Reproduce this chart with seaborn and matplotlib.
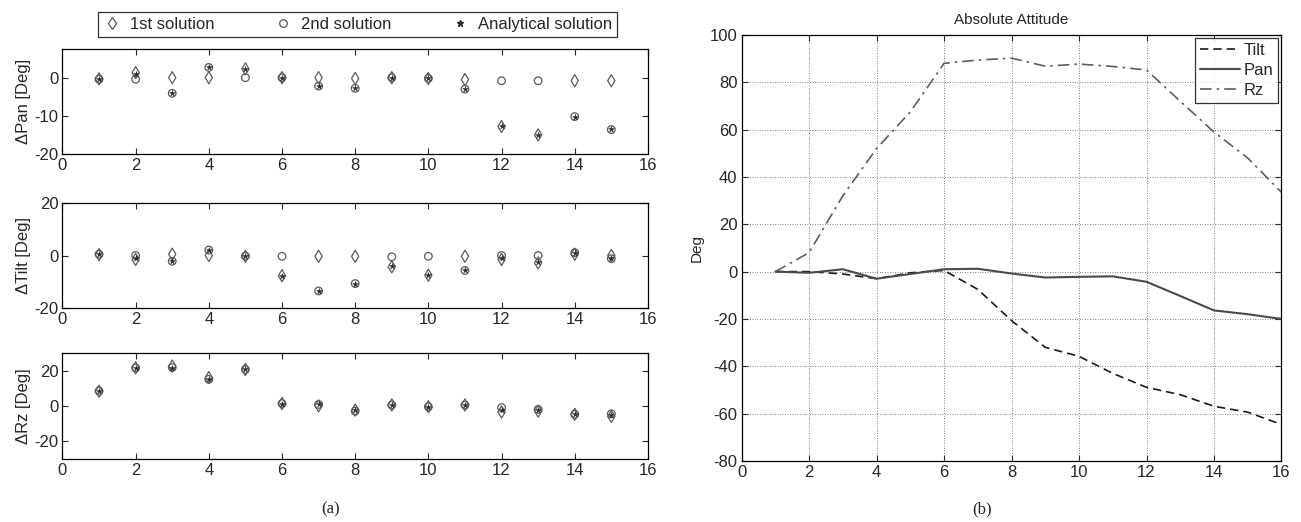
import numpy as np
import pandas as pd
import matplotlib
matplotlib.use("Agg")
import matplotlib.pyplot as plt
from matplotlib.lines import Line2D
import seaborn as sns

# ---- per-frame attitude errors (deg), frames 1..15 ----
frames = list(range(1, 16))

pan_first = [-0.3, 1.3, 0.0, 0.0, 2.3, 0.0, 0.0, -0.2, 0.0, -0.2, -0.5, -12.8, -15.0, -0.8, -0.8]
pan_second = [-0.4, -0.4, -4.1, 2.7, 0.0, 0.0, -2.2, -2.8, 0.0, -0.2, -3.0, -0.8, -0.8, -10.2, -13.6]
pan_analytical = [-0.4, 1.0, -4.0, 2.7, 2.2, 0.0, -2.2, -2.8, 0.0, -0.2, -3.0, -12.7, -15.0, -10.2, -13.5]

tilt_first = [0.3, -1.5, 0.5, 0.0, -0.3, -7.7, -0.3, -0.3, -4.3, -7.5, -0.3, -1.5, -2.8, 0.5, 0.0]
tilt_second = [0.5, 0.0, -2.2, 2.1, -0.2, -0.3, -13.5, -10.7, -0.5, -0.3, -5.7, 0.0, 0.0, 1.1, -1.2]
tilt_analytical = [0.5, -1.0, -2.0, 2.0, -0.3, -7.7, -13.5, -10.7, -4.0, -7.5, -5.7, -1.0, -2.5, 0.8, -1.0]

rz_first = [8.3, 21.5, 22.5, 16.0, 20.6, 1.3, 0.0, -2.4, 0.5, -0.5, 0.5, -3.5, -3.0, -4.8, -6.0]
rz_second = [8.4, 21.5, 21.7, 15.0, 20.6, 1.3, 0.8, -3.0, 0.5, -0.5, 0.5, -1.0, -2.0, -4.8, -4.5]
rz_analytical = [8.4, 21.5, 21.7, 15.0, 20.6, 1.3, 0.8, -2.5, 0.5, -0.5, 0.5, -2.5, -2.5, -4.8, -5.0]

# ---- absolute attitude (deg), frames 1..16 ----
abs_frames = list(range(1, 17))
abs_tilt = [0.0, 0.0, -1.0, -3.0, -0.5, 0.5, -7.5, -20.7, -32.0, -35.8, -43.0, -48.9, -52.0, -56.9, -59.4, -64.6]
abs_pan = [0.0, -0.5, 1.0, -3.0, -1.0, 1.0, 1.2, -0.8, -2.5, -2.2, -2.0, -4.3, -10.3, -16.4, -18.0, -20.0]
abs_rz = [0.0, 8.0, 32.0, 52.0, 67.5, 88.0, 89.4, 90.2, 86.8, 87.7, 86.7, 85.2, 72.0, 59.0, 48.0, 33.5]

sns.set_style("ticks")
plt.rcParams["font.family"] = ["Liberation Sans", "DejaVu Sans"]
plt.rcParams["axes.unicode_minus"] = False

fig = plt.figure(figsize=(13.01, 5.22), dpi=100)

# left column: three stacked error panels
panel_boxes = [
    (0.048, 0.705, 0.450, 0.201),
    (0.048, 0.410, 0.450, 0.201),
    (0.048, 0.121, 0.450, 0.203),
]
panel_data = [
    ("\u0394Pan [Deg]", pan_first, pan_second, pan_analytical, (-20, 7.5), [-20, -10, 0]),
    ("\u0394Tilt [Deg]", tilt_first, tilt_second, tilt_analytical, (-20, 20), [-20, 0, 20]),
    ("\u0394Rz [Deg]", rz_first, rz_second, rz_analytical, (-30, 30), [-20, 0, 20]),
]

mark_gray = "#5a5a5a"
dark = "#2a2a2a"

for box, (label, first, second, analytical, ylim, yticks) in zip(panel_boxes, panel_data):
    ax = fig.add_axes(box)
    df = pd.DataFrame({"frame": frames, "first": first, "second": second, "analytical": analytical})
    sns.scatterplot(data=df, x="frame", y="second", marker="o", s=30,
                    facecolor="none", edgecolor=mark_gray, linewidth=0.9, ax=ax)
    sns.scatterplot(data=df, x="frame", y="first", marker="d", s=38,
                    facecolor="none", edgecolor=mark_gray, linewidth=0.9, ax=ax)
    sns.scatterplot(data=df, x="frame", y="analytical", marker="*", s=20,
                    color=dark, edgecolor=dark, linewidth=0.3, ax=ax)
    ax.set_xlim(0, 16)
    ax.set_ylim(*ylim)
    ax.set_xticks(range(0, 17, 2))
    ax.set_yticks(yticks)
    ax.set_xlabel("")
    ax.set_ylabel(label, fontsize=12, labelpad=2)
    ax.tick_params(direction="in", top=True, right=True, labelsize=12, length=4,
                   width=0.8, pad=3)
    for sp in ax.spines.values():
        sp.set_color("black")
        sp.set_linewidth(0.9)

fig.text(0.254, 0.025, "(a)", fontsize=12, family=["Liberation Serif"], ha="center", va="center")

legend_handles = [
    Line2D([], [], linestyle="none", marker="d", markersize=6, markerfacecolor="none",
           markeredgecolor=mark_gray, markeredgewidth=0.9, label="1st solution"),
    Line2D([], [], linestyle="none", marker="o", markersize=5.5, markerfacecolor="none",
           markeredgecolor=mark_gray, markeredgewidth=0.9, label="2nd solution"),
    Line2D([], [], linestyle="none", marker="*", markersize=4.5, markerfacecolor=dark,
           markeredgecolor=dark, label="Analytical solution"),
]
leg = fig.legend(handles=legend_handles, loc="center", bbox_to_anchor=(0.275, 0.953),
                 ncol=3, frameon=True, fancybox=False, edgecolor="black", fontsize=12,
                 handlelength=1.0, handletextpad=0.6, columnspacing=3.6,
                 borderpad=0.3)
leg.get_frame().set_linewidth(0.9)

# right panel: absolute attitude
ax2 = fig.add_axes((0.570, 0.117, 0.415, 0.816))
adf = pd.DataFrame({"frame": abs_frames, "Tilt": abs_tilt, "Pan": abs_pan, "Rz": abs_rz})
sns.lineplot(data=adf, x="frame", y="Tilt", ax=ax2, color="#1a1a1a", linewidth=1.2,
             linestyle=(0, (5, 3)), label="Tilt")
sns.lineplot(data=adf, x="frame", y="Pan", ax=ax2, color="#4a4a4a", linewidth=1.5,
             linestyle="-", label="Pan")
sns.lineplot(data=adf, x="frame", y="Rz", ax=ax2, color="#5e5e5e", linewidth=1.2,
             linestyle=(0, (7, 3, 1.5, 3)), label="Rz")
ax2.set_xlim(0, 16)
ax2.set_ylim(-80, 100)
ax2.set_xticks(range(0, 17, 2))
ax2.set_yticks(range(-80, 101, 20))
ax2.grid(True, linestyle=(0, (1, 2)), color="#555555", linewidth=0.6)
ax2.set_xlabel("")
ax2.set_ylabel("Deg", fontsize=11, labelpad=4)
ax2.set_title("Absolute Attitude", fontsize=11, pad=8)
ax2.tick_params(direction="in", top=True, right=True, labelsize=12, length=4,
                width=0.8, pad=3)
for sp in ax2.spines.values():
    sp.set_color("black")
    sp.set_linewidth(0.9)
leg2 = ax2.legend(loc="upper right", frameon=True, fancybox=False, edgecolor="black",
                  fontsize=12, handlelength=2.4, handletextpad=0.2, borderpad=0.3,
                  labelspacing=0.3, borderaxespad=0.2)
leg2.get_frame().set_linewidth(0.9)

fig.text(0.755, 0.025, "(b)", fontsize=12, family=["Liberation Serif"], ha="center", va="center")

fig.savefig("out.png", dpi=100, facecolor="white")
